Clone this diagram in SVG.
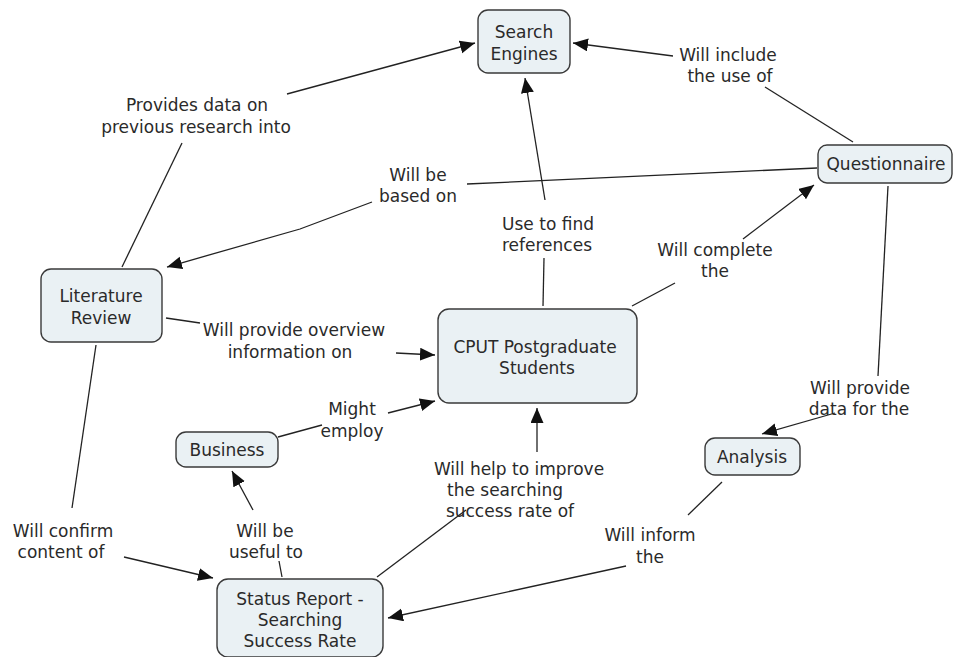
<svg xmlns="http://www.w3.org/2000/svg" width="955" height="657" viewBox="0 0 955 657">
<defs>
<style>
.n rect{fill:#eaf1f4;stroke:#3a3a3a;stroke-width:1.4}
text{font-family:"DejaVu Sans",Verdana,sans-serif;font-size:17px;fill:#2a2a2a;text-anchor:middle}
.c line,.c polyline{stroke:#222;stroke-width:1.3;fill:none}
</style>
<marker id="ah" markerUnits="userSpaceOnUse" markerWidth="16" markerHeight="14" refX="15" refY="6.5" orient="auto">
<path d="M0,0 L15,6.5 L0,13 z" fill="#111"/>
</marker>
</defs>
<g class="c" id="connectors">
<line x1="122" y1="267" x2="182" y2="143"/>
<line x1="287" y1="94" x2="475" y2="43" marker-end="url(#ah)"/>
<line x1="853" y1="142" x2="765" y2="87"/>
<line x1="673" y1="56" x2="573" y2="43" marker-end="url(#ah)"/>
<line x1="817" y1="168" x2="467" y2="184"/>
<polyline points="372,202 300,229 167,267" marker-end="url(#ah)"/>
<line x1="543" y1="306" x2="544" y2="258"/>
<line x1="545" y1="200" x2="525" y2="78" marker-end="url(#ah)"/>
<line x1="632" y1="306" x2="675" y2="283"/>
<line x1="743" y1="239" x2="814" y2="185" marker-end="url(#ah)"/>
<line x1="166" y1="318" x2="200" y2="323"/>
<line x1="396" y1="353" x2="435" y2="355" marker-end="url(#ah)"/>
<line x1="278" y1="437" x2="322" y2="425"/>
<line x1="388" y1="413" x2="435" y2="401" marker-end="url(#ah)"/>
<line x1="282" y1="577" x2="279" y2="561"/>
<line x1="253" y1="510" x2="232" y2="471" marker-end="url(#ah)"/>
<line x1="377" y1="577" x2="466" y2="510"/>
<line x1="537" y1="452" x2="537" y2="408" marker-end="url(#ah)"/>
<line x1="888" y1="186" x2="878" y2="376"/>
<line x1="835" y1="413" x2="762" y2="434" marker-end="url(#ah)"/>
<line x1="722" y1="482" x2="688" y2="515"/>
<line x1="626" y1="566" x2="388" y2="618" marker-end="url(#ah)"/>
<line x1="96" y1="345" x2="72" y2="508"/>
<line x1="124" y1="557" x2="213" y2="578" marker-end="url(#ah)"/>
</g>
<g id="labels">
<text x="197" y="111">Provides data on</text>
<text x="196" y="133">previous research into</text>
<text x="728" y="61">Will include</text>
<text x="730" y="82">the use of</text>
<text x="418" y="181">Will be</text>
<text x="418" y="202">based on</text>
<text x="548" y="230">Use to find</text>
<text x="547" y="251">references</text>
<text x="715" y="256">Will complete</text>
<text x="715" y="277">the</text>
<text x="294" y="336">Will provide overview</text>
<text x="290" y="358">information on</text>
<text x="352" y="415">Might</text>
<text x="352" y="437">employ</text>
<text x="265" y="537">Will be</text>
<text x="266" y="558">useful to</text>
<text x="519" y="475">Will help to improve</text>
<text x="505" y="496">the searching</text>
<text x="510" y="517">success rate of</text>
<text x="860" y="394">Will provide</text>
<text x="859" y="415">data for the</text>
<text x="650" y="541">Will inform</text>
<text x="650" y="563">the</text>
<text x="63" y="537">Will confirm</text>
<text x="61" y="558">content of</text>
</g>
<g class="n" id="search-engines"><rect x="478" y="10" width="92" height="63" rx="10"/><text x="524" y="38">Search</text><text x="524" y="60">Engines</text></g>
<g class="n" id="questionnaire"><rect x="818" y="145" width="134" height="38" rx="9"/><text x="886" y="170">Questionnaire</text></g>
<g class="n" id="literature-review"><rect x="41" y="269" width="121" height="73" rx="10"/><text x="101" y="302">Literature</text><text x="101" y="324">Review</text></g>
<g class="n" id="cput"><rect x="438" y="309" width="199" height="94" rx="11"/><text x="535" y="353">CPUT Postgraduate</text><text x="537" y="374">Students</text></g>
<g class="n" id="business"><rect x="176" y="432" width="102" height="35" rx="10"/><text x="227" y="456">Business</text></g>
<g class="n" id="status-report"><rect x="217" y="579" width="166" height="78" rx="11"/><text x="300" y="605">Status Report -</text><text x="300" y="626">Searching</text><text x="300" y="647">Success Rate</text></g>
<g class="n" id="analysis"><rect x="705" y="438" width="95" height="37" rx="10"/><text x="752" y="463">Analysis</text></g>
</svg>
